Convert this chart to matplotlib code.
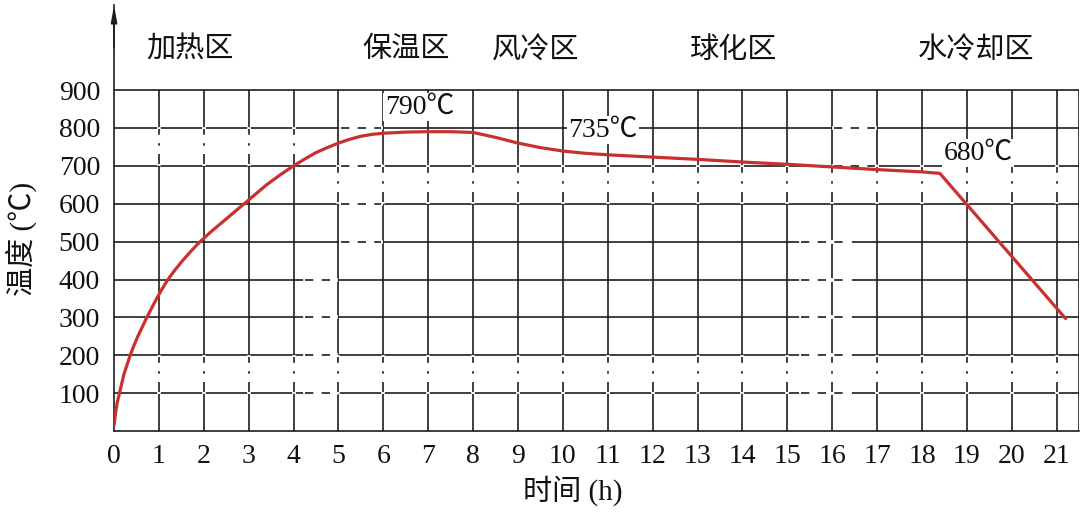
import matplotlib
matplotlib.use("Agg")
import matplotlib.pyplot as plt

plt.rcParams['font.family'] = ['Liberation Serif', 'Noto Sans CJK SC']

# ---- data ----
time_h = [0, 0.03, 0.07, 0.12, 0.17, 0.22, 0.29, 0.36, 0.44, 0.53, 0.63, 0.73, 0.84,
          0.95, 1.07, 1.2, 1.35, 1.5, 1.7, 1.9, 2.15, 2.4, 2.65, 2.9, 3.15, 3.4, 3.7,
          4.0, 4.25, 4.5, 4.75, 5.0, 5.25, 5.5, 5.75, 6.0, 6.5, 7.0, 7.5, 8.0, 8.5,
          9.0, 9.5, 10.0, 10.5, 11.0, 12.0, 13.0, 14.0, 15.0, 16.0, 17.0, 18.0,
          18.4, 21.2]
temp_c = [15, 45, 75, 100, 125, 150, 175, 200, 225, 250, 275, 300, 325,
          350, 375, 400, 424, 446, 473, 498, 525, 550, 575, 600, 625, 650, 676,
          700, 718, 735, 748, 760, 770, 778, 783, 786, 789, 790, 790, 788, 775,
          760, 748, 739, 733, 729, 723, 717, 710, 704, 697, 690, 684,
          680, 297]

x_ticks = list(range(0, 22))
y_ticks = [100, 200, 300, 400, 500, 600, 700, 800, 900]

zone_names = ["加热区", "保温区", "风冷区", "球化区", "水冷却区"]
zone_x = [1.7, 6.5, 9.4, 13.8, 19.2]

note_text = ["790℃", "735℃", "680℃"]
note_x = [6.8, 10.9, 19.25]
note_y = [855, 794, 733]

# ---- figure ----
fig = plt.figure(figsize=(10.8, 5.12), dpi=100)
ax = fig.add_axes([0.1056, 0.158, 0.8935, 0.832])
xmax, ymax = 21.5, 1124
ax.set_xlim(0, xmax)
ax.set_ylim(0, ymax)

gc = '#1e1e1e'
lw = 1.2
for y in y_ticks:
    ax.plot([0, xmax], [y, y], color=gc, lw=lw, zorder=1, solid_capstyle='butt')
for x in x_ticks[1:]:
    ax.plot([x, x], [0, 900], color=gc, lw=lw, zorder=1, solid_capstyle='butt')

def broken_v(x, y0, y1):
    ax.plot([x, x], [y0 + 4, y1 - 4], color='white', lw=lw + 1.5, zorder=1.5)
    ax.plot([x, x], [y0 + 4, y1 - 4], color=gc, lw=lw, zorder=1.6,
            linestyle=(0, (6, 5, 1.5, 5)))

def broken_h(y, x0, x1):
    ax.plot([x0, x1], [y, y], color='white', lw=lw + 1.5, zorder=1.5)
    ax.plot([x0, x1], [y, y], color=gc, lw=lw, zorder=1.6,
            linestyle=(0, (5, 5)))

for x in x_ticks[1:]:
    broken_v(x, 100, 200)
for x in x_ticks[1:5]:
    broken_v(x, 700, 800)
for x in x_ticks[5:]:
    broken_v(x, 600, 700)
for y in [500, 600, 700, 800]:
    broken_h(y, 5.05, 5.95)
for y in [100, 200, 300, 400]:
    broken_h(y, 4.25, 4.95)
for y in [100, 200, 300, 400, 500]:
    broken_h(y, 15.3, 16.4)
for y in [700, 800]:
    broken_h(y, 16.05, 16.95)

ax.plot([xmax, xmax], [0, 900], color=gc, lw=lw, zorder=1)

for s in ['top', 'right']:
    ax.spines[s].set_visible(False)
ax.spines['left'].set_color(gc)
ax.spines['bottom'].set_color(gc)
ax.spines['left'].set_linewidth(lw)
ax.spines['bottom'].set_linewidth(lw)

ax.annotate('', xy=(0, 1.0), xycoords='axes fraction', xytext=(0, 0.9),
            arrowprops=dict(arrowstyle='-|>,head_length=1.0,head_width=0.18',
                            color=gc, lw=lw, shrinkA=0, shrinkB=0))

ax.plot(time_h, temp_c, color='#c9312f', lw=2.3, zorder=3,
        solid_capstyle='round', solid_joinstyle='round')

ax.set_xticks(x_ticks)
ax.set_xticklabels([str(v) for v in x_ticks], fontsize=20)
ax.set_yticks(y_ticks)
ax.set_yticklabels([str(v) for v in y_ticks], fontsize=20)
ax.tick_params(axis='both', length=0, colors='#111111')
ax.tick_params(axis='x', pad=9)
ax.tick_params(axis='y', pad=10)

for name, zx in zip(zone_names, zone_x):
    ax.text(zx, 1005, name, ha='center', va='center', fontsize=21, color='#111111')

for t, nx, ny in zip(note_text, note_x, note_y):
    ax.text(nx, ny, t, ha='center', va='center', fontsize=20, color='#111111', zorder=4,
            bbox=dict(facecolor='white', edgecolor='none', pad=1.0))

ax.set_xlabel('时间 (h)', fontsize=21, color='#111111')
ax.xaxis.set_label_coords(0.475, -0.105)
ax.set_ylabel('温度 (℃)', fontsize=21, color='#111111')
ax.yaxis.set_label_coords(-0.08, 0.45)

fig.savefig('out.png', dpi=100, facecolor='white')
